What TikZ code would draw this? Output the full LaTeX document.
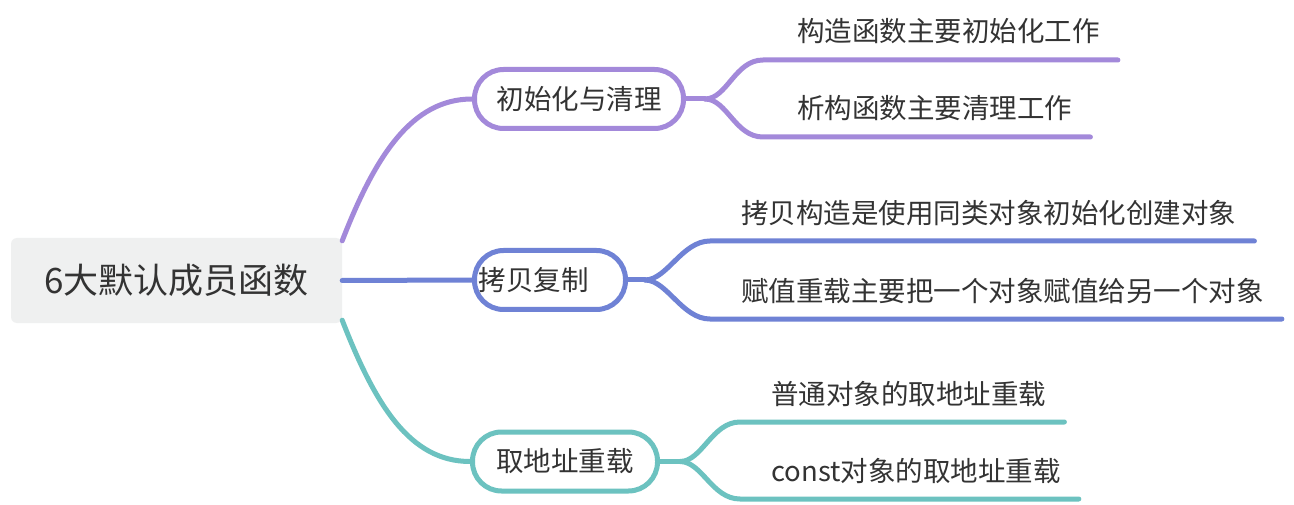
\documentclass[tikz,border=0pt]{standalone}
\usepackage{fontspec}
\setmainfont{Noto Sans CJK SC}
\usetikzlibrary{calc}
\definecolor{cpur}{HTML}{A389DA}
\definecolor{cblu}{HTML}{6F82D5}
\definecolor{ctea}{HTML}{6CC2C0}
\definecolor{ctxt}{HTML}{333333}
\definecolor{croot}{HTML}{EFF0F0}
\begin{document}
\begin{tikzpicture}[x=1pt,y=-1pt,
  every node/.style={text=ctxt, font=\fontsize{27.5}{30}\selectfont},
  rootbox/.style={fill=croot, rounded corners=6, minimum width=331, minimum height=85, inner sep=0, font=\fontsize{35}{40}\selectfont},
  pill/.style={draw=#1, fill=white, line width=5, rounded corners=29, minimum height=59, inner sep=0},
  leaf/.style={anchor=west, inner sep=0},
  conn/.style={draw=#1, line width=5, line cap=round},
]
\useasboundingbox (0,0) rectangle (1294,505);
\fill[white] (0,0) rectangle (1294,505);

% root and branches
\node[rootbox] (root) at (176.5,280.5) {6大默认成员函数};
\node[pill=cpur, minimum width=209] (b1) at (579,99) {初始化与清理};
\node[pill=cblu, minimum width=151, text width=143, align=left, inner xsep=4] (b2) at (550,280) {拷贝复制};
\node[pill=ctea, minimum width=185] (b3) at (565,461.5) {取地址重载};

% leaves
\node[leaf] (t11) at (797,31) {构造函数主要初始化工作};
\node[leaf] (t12) at (797,108) {析构函数主要清理工作};
\node[leaf] (t21) at (741,213) {拷贝构造是使用同类对象初始化创建对象};
\node[leaf] (t22) at (741,291) {赋值重载主要把一个对象赋值给另一个对象};
\node[leaf] (t31) at (771,394) {普通对象的取地址重载};
\node[leaf] (t32) at (771,471) {const对象的取地址重载};

% root connectors
\draw[conn=cpur] ($(root.north east)+(0,3)$) .. controls +(33,-85) and +(-60,0) .. (b1.west);
\draw[conn=cblu] (root.east) -- (b2.west);
\draw[conn=ctea] ($(root.south east)+(0,-3)$) .. controls +(33,85) and +(-60,0) .. (b3.west);

% fork coordinates
\coordinate (j1) at ($(b1.east)+(19,0)$);
\coordinate (s11) at (763,60);
\coordinate (s12) at (763,137);
\coordinate (j2) at ($(b2.east)+(17,0)$);
\coordinate (s21) at (710,241);
\coordinate (s22) at (710,319);
\coordinate (j3) at ($(b3.east)+(20,0)$);
\coordinate (s31) at (740,422);
\coordinate (s32) at (740,499);

% branch 1 leaves
\draw[conn=cpur] (b1.east) -- (j1);
\draw[conn=cpur] (j1) .. controls +(22,0) and +(-28,0) .. (s11) -- ($(s11 -| t11.east)+(18,0)$);
\draw[conn=cpur] (j1) .. controls +(22,0) and +(-28,0) .. (s12) -- ($(s12 -| t12.east)+(18,0)$);
% branch 2 leaves
\draw[conn=cblu] (b2.east) -- (j2);
\draw[conn=cblu] (j2) .. controls +(22,0) and +(-28,0) .. (s21) -- ($(s21 -| t21.east)+(18,0)$);
\draw[conn=cblu] (j2) .. controls +(22,0) and +(-28,0) .. (s22) -- ($(s22 -| t22.east)+(18,0)$);
% branch 3 leaves
\draw[conn=ctea] (b3.east) -- (j3);
\draw[conn=ctea] (j3) .. controls +(22,0) and +(-28,0) .. (s31) -- ($(s31 -| t31.east)+(18,0)$);
\draw[conn=ctea] (j3) .. controls +(22,0) and +(-28,0) .. (s32) -- ($(s32 -| t32.east)+(18,0)$);
\end{tikzpicture}
\end{document}
